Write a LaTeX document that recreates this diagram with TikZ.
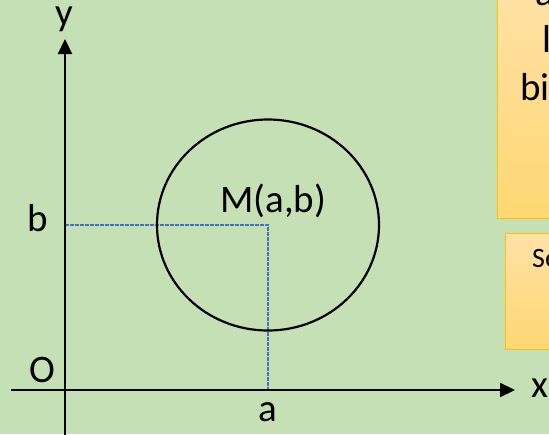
\documentclass[tikz,border=0pt]{standalone}
\usepackage{fontspec}
\setmainfont{Carlito}
\usetikzlibrary{arrows.meta, positioning}
\definecolor{bggreen}{RGB}{197,224,180}
\definecolor{guideblue}{RGB}{68,114,196}
\definecolor{boxline}{RGB}{255,192,0}
\definecolor{boxtop}{RGB}{255,225,165}
\definecolor{boxbottom}{RGB}{255,215,115}
\begin{document}
\begin{tikzpicture}[
    x=1pt, y=-1pt,
    axis/.style={draw, line width=2.2pt, -{Triangle[length=15pt, width=14pt]}},
    guide/.style={draw=guideblue, line width=1.1pt, dash pattern=on 3.5pt off 1.5pt},
    lbl/.style={anchor=base, inner sep=0pt, font=\fontsize{39}{47}\selectfont},
    small/.style={anchor=base west, inner sep=0pt, font=\fontsize{28}{34}\selectfont},
    notebox/.style={draw=boxline, line width=1.2pt, top color=boxtop, bottom color=boxbottom,
      anchor=north west, inner sep=0pt}
  ]
  \useasboundingbox (0,0) rectangle (549,434);
  \clip (0,0) rectangle (549,434);
  \fill[bggreen] (0,0) rectangle (549,434);

  \node[notebox, minimum width=120pt, minimum height=228pt] (topbox) at (497,-10) {};
  \node[notebox, minimum width=100pt, minimum height=116pt] (lowbox) at (505,233) {};
  \node[lbl, anchor=base west] (topa) at (535,5) {a};
  \node[lbl, anchor=base west] (topl) at (542,52) {l};
  \node[lbl, anchor=base west] (topbi) at (520,100) {bi};
  \node[small] (lowse) at (532,267) {Se};

  \coordinate (o) at (65,390);
  \coordinate (xs) at (11,390);
  \coordinate (xe) at (515,390);
  \coordinate (ys) at (65,440);
  \coordinate (ye) at (65,39);
  \coordinate (m) at (268,225);
  \coordinate (yb) at (65,225);
  \coordinate (xa) at (268,390);

  \draw[guide] (yb) -- (m) -- (xa);
  \draw[line width=2.2pt] (m) ellipse [x radius=111, y radius=105.5];
  \draw[axis] (xs) -- (xe);
  \draw[axis] (ys) -- (ye);

  \node[lbl] (xlbl) at (540,397) {x};
  \node[lbl] (ylbl) at (64,25) {y};
  \node[lbl] (olbl) at (42,382) {O};
  \node[lbl] (albl) at (268,421) {a};
  \node[lbl] (blbl) at (38,231) {b};
  \node[lbl, anchor=base west] (mlbl) at (220,212) {M(a,b)};
\end{tikzpicture}
\end{document}
